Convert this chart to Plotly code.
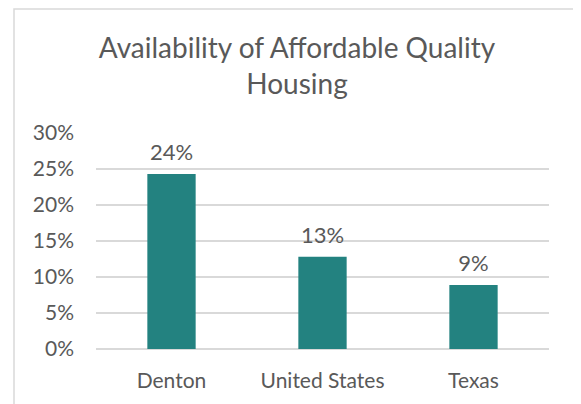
import plotly.graph_objects as go

# data
categories = ["Denton", "United States", "Texas"]
share_available = [0.243, 0.128, 0.089]
tick_values = [0, 0.05, 0.10, 0.15, 0.20, 0.25, 0.30]
tick_labels = ["0%", "5%", "10%", "15%", "20%", "25%", "30%"]

TEAL = "#238280"
GREY_TEXT = "#595959"
GRID = "#d9d9d9"
FONT = "Lato"

W, H = 581, 404
OFF = 8  # the page body adds 8px around the figure div

# plot area in page pixels
left, right, top, bottom = 96, 549, 133, 349
ml, mr = left - OFF, W - (right - OFF)
mt, mb = top - OFF, H - (bottom - OFF)
pw, ph = W - ml - mr, H - mt - mb

fig = go.Figure()
fig.add_trace(
    go.Bar(
        x=categories,
        y=share_available,
        marker={"color": TEAL, "line": {"width": 0}},
        width=0.32,
        hoverinfo="skip",
    )
)
# value labels sit a little above the bars
fig.add_trace(
    go.Scatter(
        x=categories,
        y=share_available,
        mode="markers+text",
        marker={"size": 12, "color": "rgba(0,0,0,0)"},
        text=[f"{v:.0%}" for v in share_available],
        textposition="top center",
        textfont={"size": 22, "color": GREY_TEXT, "family": FONT},
        cliponaxis=False,
        hoverinfo="skip",
    )
)

# light frame around the whole chart
fig.add_shape(
    type="rect",
    xref="paper",
    yref="paper",
    x0=(14 - OFF - ml) / pw,
    x1=(575 - OFF - ml) / pw,
    y0=-1.0,
    y1=(mt + ph - (9 - OFF)) / ph,
    line={"color": GRID, "width": 1.5},
    layer="below",
)

fig.update_layout(
    width=W,
    height=H,
    margin={"l": ml, "r": mr, "t": mt, "b": mb},
    paper_bgcolor="white",
    plot_bgcolor="white",
    showlegend=False,
    title={
        "text": "Availability of Affordable Quality<br>Housing",
        "x": (297 - OFF) / W,
        "xanchor": "center",
        "y": 1 - (58 - OFF) / H,
        "yanchor": "middle",
        "font": {"size": 28, "color": GREY_TEXT, "family": FONT},
    },
    font={"family": FONT, "color": GREY_TEXT},
)
fig.update_xaxes(
    showgrid=False,
    showline=False,
    ticks="",
    ticklabelstandoff=17,
    tickfont={"size": 21, "color": GREY_TEXT},
)
fig.update_yaxes(
    range=[0, 0.30],
    tickvals=tick_values,
    ticktext=tick_labels,
    showgrid=True,
    gridcolor=GRID,
    gridwidth=1.5,
    zeroline=True,
    zerolinecolor=GRID,
    zerolinewidth=1.5,
    showline=False,
    ticks="",
    ticklabelstandoff=21,
    tickfont={"size": 21, "color": GREY_TEXT},
)

fig.write_html("out.html")
